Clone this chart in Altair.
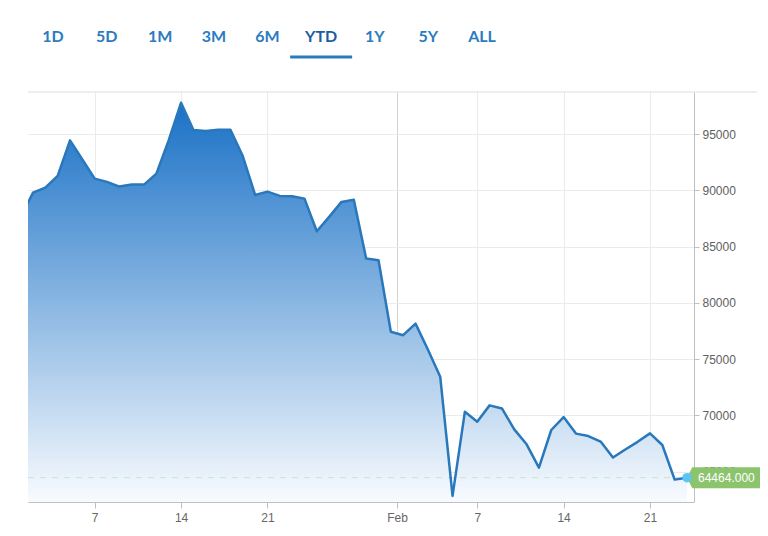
import altair as alt
import pandas as pd

# ---- data -------------------------------------------------------------
DATES = pd.date_range("2018-01-01", "2018-02-24", freq="D").strftime("%Y-%m-%d").tolist()
VALUES = [
    87600, 89800, 90250, 91290, 94450, 92750, 91050, 90760, 90340, 90520,
    90520, 91490, 94470, 97800, 95370, 95280, 95400, 95400, 93060, 89600,
    89890, 89510, 89480, 89270, 86370, 87650, 88980, 89180, 83940, 83790,
    77440, 77130, 78160, 75860, 73440, 62840, 70330, 69440, 70890, 70620,
    68760, 67430, 65360, 68700, 69850, 68380, 68160, 67670, 66250, 66970,
    67650, 68400, 67370, 64290, 64464,
]
RANGES = ["1D", "5D", "1M", "3M", "6M", "YTD", "1Y", "5Y", "ALL"]
SELECTED = "YTD"
Y_TICKS = [65000, 70000, 75000, 80000, 85000, 90000, 95000]
Y_DOMAIN = [62300, 98750]

df = pd.DataFrame({"date": DATES, "value": VALUES})
last = df.tail(1)
btn = pd.DataFrame({"label": RANGES})
sel = pd.DataFrame({"label": [SELECTED]})

FONT = "Liberation Sans"

x_ticks = [
    alt.DateTime(year=2018, month=1, date=7, utc=True),
    alt.DateTime(year=2018, month=1, date=14, utc=True),
    alt.DateTime(year=2018, month=1, date=21, utc=True),
    alt.DateTime(year=2018, month=1, date=31, hours=12, utc=True),
    alt.DateTime(year=2018, month=2, date=7, utc=True),
    alt.DateTime(year=2018, month=2, date=14, utc=True),
    alt.DateTime(year=2018, month=2, date=21, utc=True),
]

x_enc = alt.X(
    "date:T",
    scale=alt.Scale(
        type="utc",
        domain=[
            alt.DateTime(year=2018, month=1, date=1, hours=14, minutes=17, utc=True),
            alt.DateTime(year=2018, month=2, date=24, hours=13, minutes=36, utc=True),
        ],
        nice=False,
    ),
    axis=alt.Axis(
        values=x_ticks,
        labelExpr="utcdate(datum.value) == 31 ? 'Feb' : utcFormat(datum.value, '%-d')",
        title=None,
        grid=True,
        gridColor={"condition": {"test": "utcdate(datum.value) == 31", "value": "#d2d2d2"}, "value": "#ebebeb"},
        domainColor="#c0c0c0",
        tickColor="#c0c0c0",
        tickSize=6,
        labelColor="#666666",
        labelFontSize=12,
        labelFont=FONT,
        labelPadding=4,
        zindex=0,
    ),
)

y_enc = alt.Y(
    "value:Q",
    scale=alt.Scale(domain=Y_DOMAIN, nice=False, zero=False),
    axis=alt.Axis(
        orient="right",
        values=Y_TICKS,
        format="d",
        title=None,
        grid=True,
        gridColor="#ebebeb",
        domainColor="#c0c0c0",
        tickColor="#c0c0c0",
        tickSize=5,
        labelColor="#606060",
        labelFontSize=12,
        labelFont=FONT,
        labelPadding=3,
        zindex=0,
    ),
)

base = alt.Chart(df)

area = base.mark_area(
    clip=True,
    color=alt.Gradient(
        gradient="linear",
        stops=[
            alt.GradientStop(color="#1a71c6", offset=0),
            alt.GradientStop(color="#f8fbfe", offset=1),
        ],
        x1=0, x2=0, y1=0, y2=1,
    ),
).encode(x=x_enc, y=y_enc, y2=alt.datum(Y_DOMAIN[0]))

line = base.mark_line(clip=True, color="#2978bc", strokeWidth=2.5, strokeJoin="round").encode(
    x=x_enc, y=y_enc
)

last_rule = alt.Chart(last).mark_rule(color="#c9e3c9", strokeDash=[6, 6], strokeWidth=1).encode(y=y_enc)

top_border = alt.Chart(last).mark_rule(color="#dedede", strokeWidth=1).encode(
    x=alt.value(0), x2=alt.value(729), y=alt.value(0)
)

tag = alt.Chart(last).mark_point(
    shape="M0,0L0.5,-1L8,-1L8,1L0.5,1Z", size=441, filled=True, opacity=1,
    color="#8cc46e", strokeWidth=0,
).encode(x=x_enc, y=y_enc)

dot = alt.Chart(last).mark_circle(size=90, color="#5bc5f6", opacity=1).encode(x=x_enc, y=y_enc)

tag_text = alt.Chart(last).mark_text(
    align="left", baseline="middle", dx=11, color="white", fontSize=12, font=FONT
).encode(x=x_enc, y=y_enc, text=alt.Text("value:Q", format=".3f"))

plot = alt.layer(area, last_rule, line, top_border, tag, dot, tag_text)

bx = alt.X(
    "label:N",
    scale=alt.Scale(type="point", domain=RANGES, range=[25, 454], padding=0),
    axis=None,
)

btn_text = alt.Chart(btn).mark_text(
    font="Lato", fontSize=16, fontWeight="bold", baseline="middle", align="center"
).encode(
    x=bx,
    y=alt.value(-55),
    text="label:N",
    color=alt.condition(alt.datum.label == SELECTED, alt.value("#1c5d9c"), alt.value("#2b7bc0")),
)

btn_bar = alt.Chart(sel).mark_tick(
    orient="horizontal", size=62, thickness=3, color="#2b7bc0", opacity=1
).encode(x=bx, y=alt.value(-35))

buttons = alt.layer(btn_text, btn_bar)

chart = (
    alt.layer(plot, buttons)
    .resolve_scale(x="independent")
    .properties(
        width=666,
        height=410,
        padding={"left": 20, "top": 84, "right": 66, "bottom": 30},
        autosize=alt.AutoSizeParams(type="none"),
        background="white",
    )
    .configure_view(stroke=None)
)

chart.save("out.html", embed_options={"renderer": "svg", "actions": False})
